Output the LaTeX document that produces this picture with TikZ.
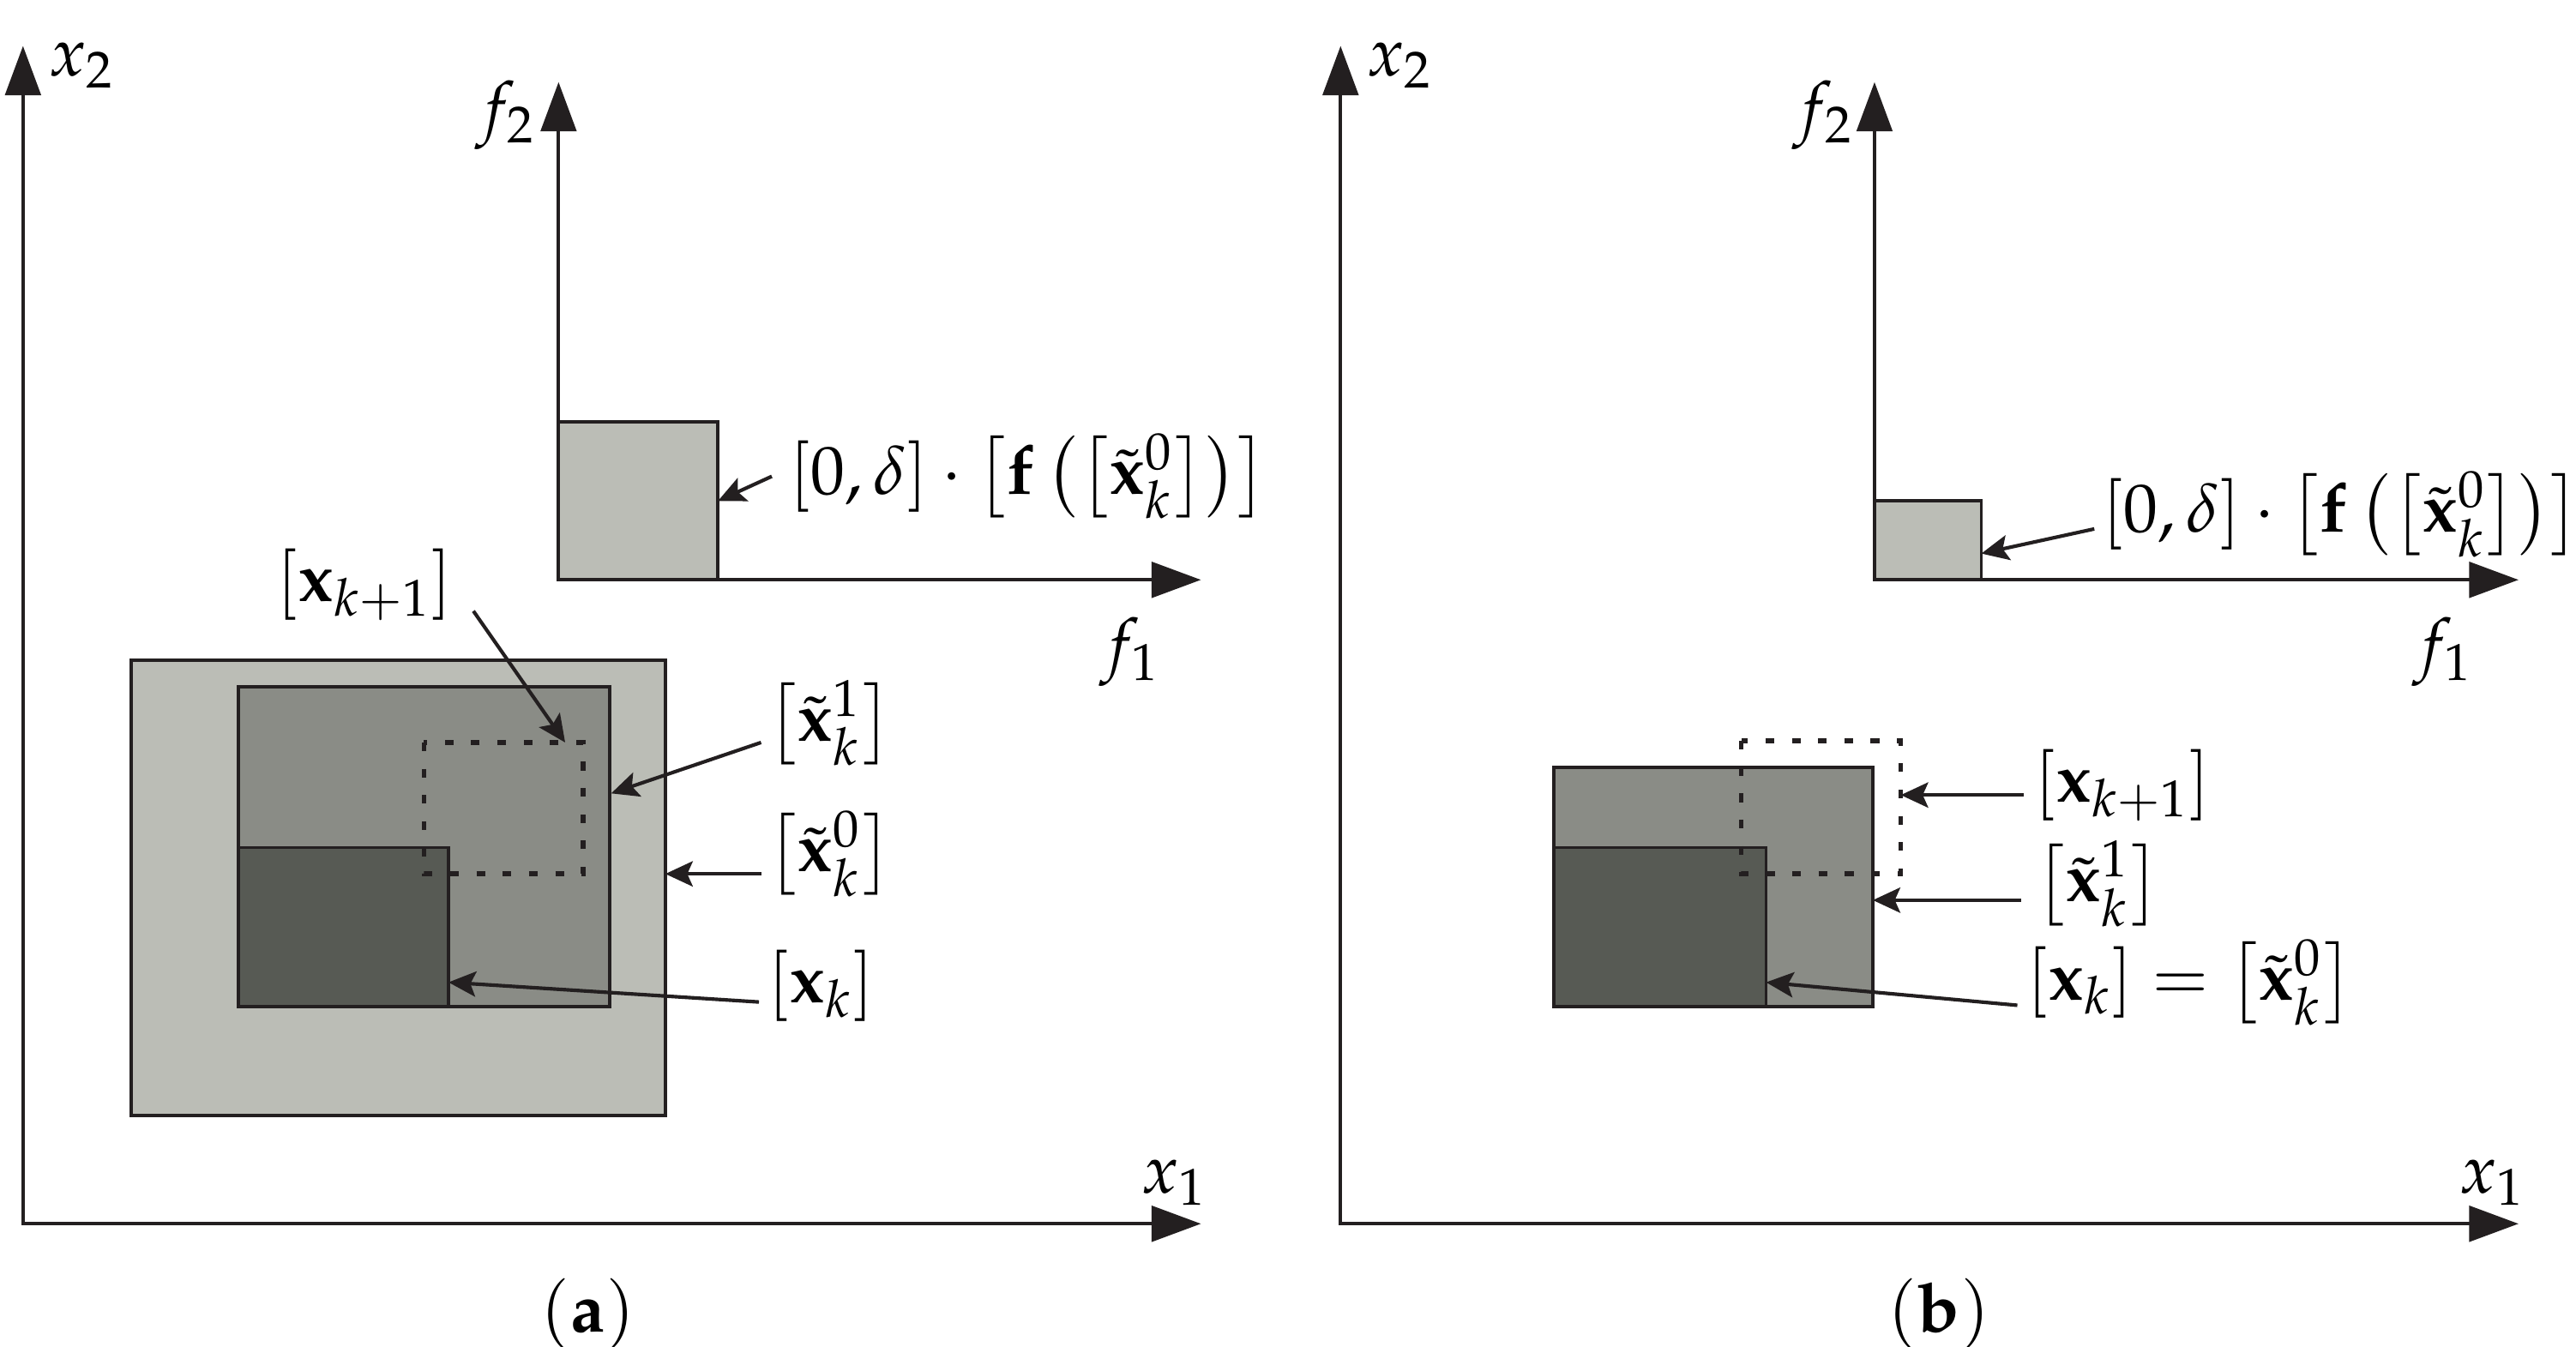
\documentclass[tikz,border=0pt]{standalone}
\usepackage{mathpazo}
\usetikzlibrary{arrows.meta}
\definecolor{lightbox}{HTML}{BBBDB6}
\definecolor{midbox}{HTML}{8A8C86}
\definecolor{darkbox}{HTML}{575A54}
\definecolor{ink}{HTML}{231F20}
\begin{document}
\begin{tikzpicture}[x=0.3pt,y=-0.3pt,
  axis/.style={draw=ink, line width=0.6pt, line join=miter,
    {Triangle[length=9pt,width=6.5pt]}-{Triangle[length=9pt,width=6.5pt]}},
  pointer/.style={draw=ink, line width=0.65pt, -{Stealth[length=5pt,width=4.6pt,inset=1pt]}},
  boxline/.style={draw=ink, line width=0.6pt},
  dotbox/.style={draw=ink, line width=0.85pt, dash pattern=on 1.6pt off 3.2pt},
  lbl/.style={inner sep=0pt, font=\fontsize{12.5}{15}\selectfont},
]
\useasboundingbox (0,0) rectangle (1568,820);

% ---------------- panel (a) ----------------
\draw[boxline, fill=lightbox] (340,257) rectangle (437,353);
\draw[axis] (340,50) -- (340,353) -- (731,353);
\draw[axis] (14,28) -- (14,745) -- (731,745);

\draw[boxline, fill=lightbox] (80,402) rectangle (405,679);
\draw[boxline, fill=midbox] (145,418) rectangle (371,613);
\draw[boxline, fill=darkbox] (145,516) rectangle (273,613);
\draw[dotbox] (258,452) rectangle (355,532);

\node[lbl] (x2a) at (50,40) {$x_2$};
\node[lbl] (x1a) at (715,720) {$x_1$};
\node[lbl] (f2a) at (308,70) {$f_2$};
\node[lbl] (f1a) at (688,397) {$f_1$};

\node[lbl] (fa) at (626,290) {$[0,\delta]\cdot\left[\mathbf{f}\left(\left[\tilde{\mathbf{x}}_k^0\right]\right)\right]$};
\node[lbl] (xk1a) at (222,356) {$\left[\mathbf{x}_{k+1}\right]$};
\node[lbl] (xt1a) at (505,440) {$\left[\tilde{\mathbf{x}}_k^1\right]$};
\node[lbl] (xt0a) at (505,520) {$\left[\tilde{\mathbf{x}}_k^0\right]$};
\node[lbl] (xka) at (500,600) {$\left[\mathbf{x}_k\right]$};

\coordinate (tfa) at (437,305);
\coordinate (tk1a) at (344,452);
\coordinate (tt1a) at (372,483);
\coordinate (tt0a) at (405,532);
\coordinate (tka) at (273,598);

\draw[pointer] ([xshift=-3]fa.west) -- (tfa);
\draw[pointer] ([shift={(12,16)}]xk1a.east) -- (tk1a);
\draw[pointer] ([shift={(-3,12)}]xt1a.west) -- (tt1a);
\draw[pointer] ([shift={(-3,12)}]xt0a.west) -- (tt0a);
\draw[pointer] ([shift={(-5,10)}]xka.west) -- (tka);

\node[font=\fontsize{12.5}{15}\selectfont] (capa) at (358,800) {$(\mathbf{a})$};

% ---------------- panel (b) ----------------
\draw[boxline, fill=lightbox] (1141,305) rectangle (1206,353);
\draw[axis] (1141,50) -- (1141,353) -- (1533,353);
\draw[axis] (816,28) -- (816,745) -- (1533,745);

\draw[boxline, fill=midbox] (946,467) rectangle (1140,613);
\draw[boxline, fill=darkbox] (946,516) rectangle (1075,613);
\draw[dotbox] (1060,451) rectangle (1157,532);

\node[lbl] (x2b) at (852,40) {$x_2$};
\node[lbl] (x1b) at (1517,720) {$x_1$};
\node[lbl] (f2b) at (1110,70) {$f_2$};
\node[lbl] (f1b) at (1487,397) {$f_1$};

\node[lbl] (fb) at (1425,313) {$[0,\delta]\cdot\left[\mathbf{f}\left(\left[\tilde{\mathbf{x}}_k^0\right]\right)\right]$};
\node[lbl] (xk1b) at (1292,478) {$\left[\mathbf{x}_{k+1}\right]$};
\node[lbl] (xt1b) at (1277,538) {$\left[\tilde{\mathbf{x}}_k^1\right]$};
\node[lbl] (xkb) at (1333,598) {$\left[\mathbf{x}_k\right]=\left[\tilde{\mathbf{x}}_k^0\right]$};

\coordinate (tfb) at (1206,337);
\coordinate (tk1b) at (1157,484);
\coordinate (tt1b) at (1140,548);
\coordinate (tkb) at (1075,598);

\draw[pointer] ([shift={(-4,9)}]fb.west) -- (tfb);
\draw[pointer] ([shift={(-6,6)}]xk1b.west) -- (tk1b);
\draw[pointer] ([shift={(-8,10)}]xt1b.west) -- (tt1b);
\draw[pointer] ([shift={(-5,14)}]xkb.west) -- (tkb);

\node[font=\fontsize{12.5}{15}\selectfont] (capb) at (1180,800) {$(\mathbf{b})$};
\end{tikzpicture}
\end{document}
